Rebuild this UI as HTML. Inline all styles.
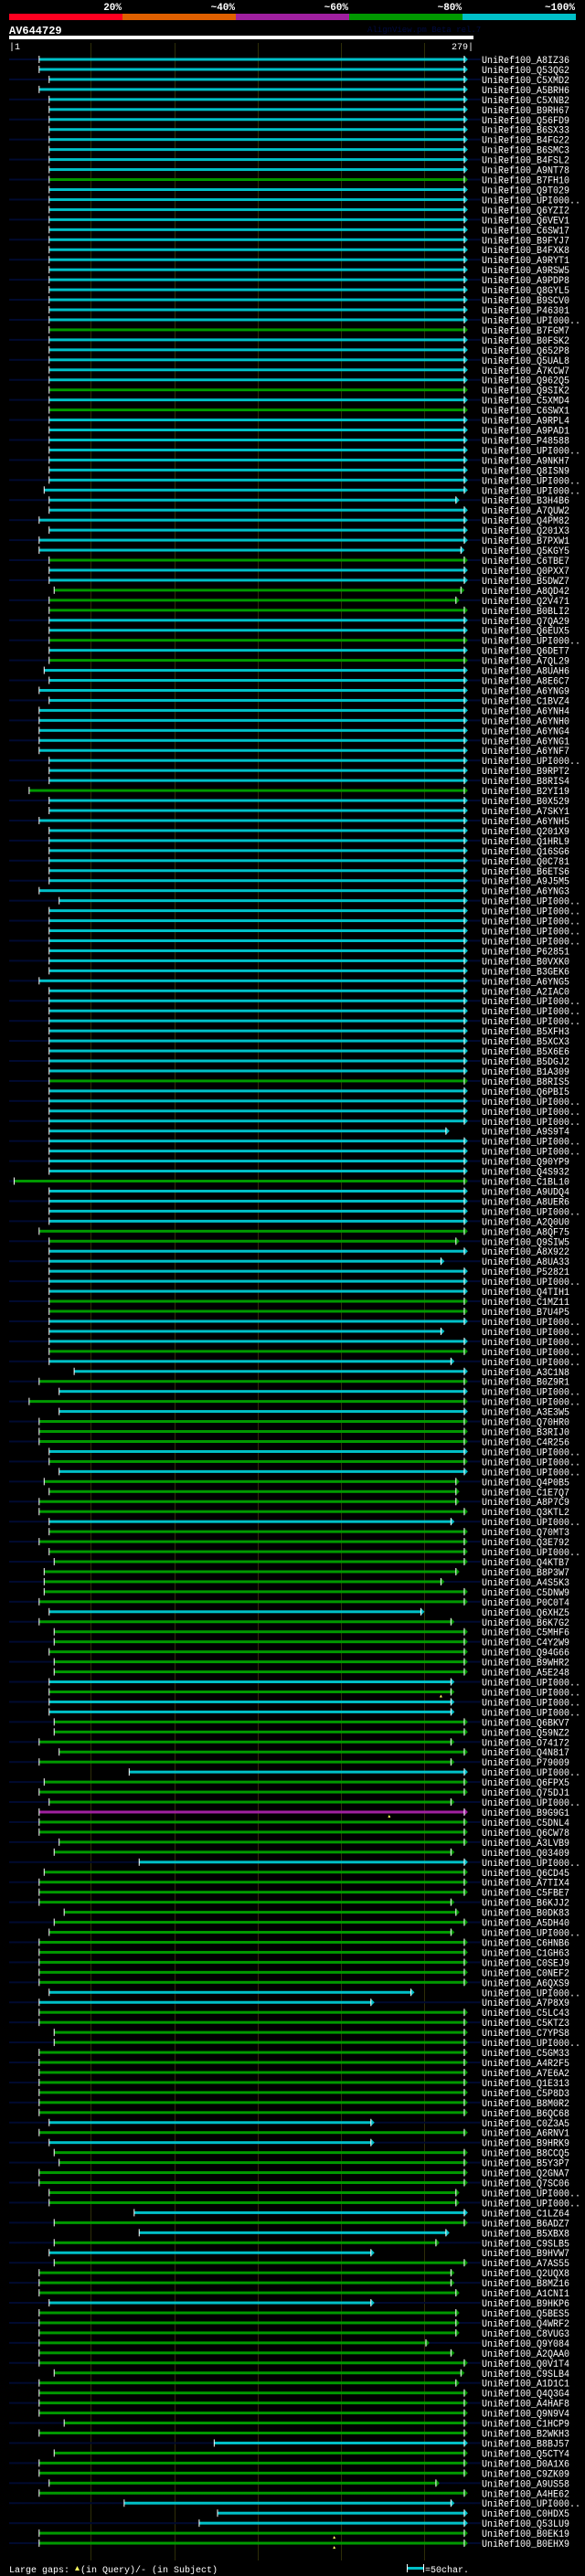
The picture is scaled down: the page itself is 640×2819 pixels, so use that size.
<!DOCTYPE html>
<html><head><meta charset="utf-8"><title>AV644729 alignment</title>
<style>
html,body{margin:0;padding:0;background:#000;}
svg{display:block;}
text{font-family:"Liberation Mono",monospace;}
</style></head>
<body>
<svg id="chart" width="640" height="2819" viewBox="0 0 640 2819" xmlns="http://www.w3.org/2000/svg">
<rect x="0" y="0" width="640" height="2819" fill="#000"/>
<g>
<rect x="10" y="15" width="124" height="7" fill="#ff0020"/>
<rect x="134" y="15" width="124" height="7" fill="#e06000"/>
<rect x="258" y="15" width="124" height="7" fill="#a020a0"/>
<rect x="382" y="15" width="124" height="7" fill="#009900"/>
<rect x="506" y="15" width="124" height="7" fill="#00c0c8"/>
<g fill="#fff" font-weight="bold" font-size="11" text-anchor="end">
<text x="133" y="11">20%</text>
<text x="257" y="11">~40%</text>
<text x="381" y="11">~60%</text>
<text x="505" y="11">~80%</text>
<text x="629" y="11">~100%</text>
</g>
</g>
<text x="10" y="37" fill="#fff" font-weight="bold" font-size="12">AV644729</text>
<text x="402" y="35" fill="#000a40" font-size="9">AlignView.pm Beta rel.7</text>
<rect x="10" y="39" width="508" height="4" fill="#fff"/>
<text x="10" y="54" fill="#fff" font-size="10">|1</text>
<text x="518" y="54" fill="#fff" font-size="10" text-anchor="end">279|</text>
<g id="grid"></g>
<g id="rows"></g>
<g>
<text x="10" y="2815" fill="#fff" font-size="10">Large gaps:</text>
<polygon points="82,2813 84.5,2808 87,2813" fill="#ffff60"/>
<text x="88" y="2815" fill="#fff" font-size="10">(in Query)/- (in Subject)</text>
<rect x="446" y="2809" width="17" height="3" fill="#00c0c8"/>
<rect x="445" y="2806" width="1" height="9" fill="#fff"/>
<rect x="463" y="2806" width="1" height="9" fill="#fff"/>
<text x="465" y="2815" fill="#fff" font-size="10">=50char.</text>
</g>
</svg>
<script>
const queryLen = 279;
const gridTicks = [50,100,150,200,250];
const names = ["A8IZ36","Q53QG2","C5XMD2","A5BRH6","C5XNB2","B9RH67","Q56FD9","B6SX33","B4FG22","B6SMC3","B4FSL2","A9NT78","B7FH10","Q9T029","UPI000..","Q6YZI2","Q6VEV1","C6SW17","B9FYJ7","B4FXK8","A9RYT1","A9RSW5","A9PDP8","Q8GYL5","B9SCV0",
"P46301","UPI000..","B7FGM7","B0FSK2","Q652P8","Q5UAL8","A7KCW7","Q962Q5","Q9SIK2","C5XMD4","C6SWX1","A9RPL4","A9PAD1","P48588","UPI000..","A9NKH7","Q8ISN9","UPI000..","UPI000..","B3H4B6","A7QUW2","Q4PM82","Q201X3","B7PXW1","Q5KGY5",
"C6TBE7","Q0PXX7","B5DWZ7","A8QD42","Q2V471","B0BLI2","Q7QA29","Q6EUX5","UPI000..","Q6DET7","A7QL29","A8UAH6","A8E6C7","A6YNG9","C1BVZ4","A6YNH4","A6YNH0","A6YNG4","A6YNG1","A6YNF7","UPI000..","B9RPT2","B8RIS4","B2YI19","B0X529",
"A7SKY1","A6YNH5","Q201X9","Q1HRL9","Q16SG6","Q0C781","B6ETS6","A9J5M5","A6YNG3","UPI000..","UPI000..","UPI000..","UPI000..","UPI000..","P62851","B0VXK0","B3GEK6","A6YNG5","A2IAC0","UPI000..","UPI000..","UPI000..","B5XFH3","B5XCX3","B5X6E6",
"B5DGJ2","B1A309","B8RIS5","Q6PBI5","UPI000..","UPI000..","UPI000..","A9S9T4","UPI000..","UPI000..","Q90YP9","Q4S932","C1BL10","A9UDQ4","A8UER6","UPI000..","A2Q0U0","A8QF75","Q9SIW5","A8X922","A8UA33","P52821","UPI000..","Q4TIH1","C1MZ11",
"B7U4P5","UPI000..","UPI000..","UPI000..","UPI000..","UPI000..","A3C1N8","B0Z9R1","UPI000..","UPI000..","A3E3W5","Q70HR0","B3RIJ0","C4R256","UPI000..","UPI000..","UPI000..","Q4P0B5","C1E7Q7","A8P7C9","Q3KTL2","UPI000..","Q70MT3","Q3E792","UPI000..","Q4KTB7",
"B8P3W7","A4S5K3","C5DNW9","P0C0T4","Q6XHZ5","B6K7G2","C5MHF6","C4Y2W9","Q94G66","B9WHR2","A5E248","UPI000..","UPI000..","UPI000..","UPI000..","Q6BKV7","Q59NZ2","O74172","Q4N817","P79009","UPI000..","Q6FPX5","Q75DJ1","UPI000..","B9G9G1",
"C5DNL4","Q6CW78","A3LVB9","Q03409","UPI000..","Q6CD45","A7TIX4","C5FBE7","B6KJJ2","B0DK83","A5DH40","UPI000..","C6HNB6","C1GH63","C0SEJ9","C0NEF2","A6QXS9","UPI000..","A7P8X9","C5LC43","C5KTZ3","C7YPS8","UPI000..","C5GM33","A4R2F5",
"A7E6A2","Q1E313","C5P8D3","B8M0R2","B6QC68","C0Z3A5","A6RNV1","B9HRK9","B8CCQ5","B5Y3P7","Q2GNA7","Q7SC06","UPI000..","UPI000..","C1LZ64","B6ADZ7","B5XBX8","C9SLB5","B9HVW7","A7AS55","Q2UQX8","B8MZ16","A1CNI1","B9HKP6","Q5BES5",
"Q4WRF2","C8VUG3","Q9Y084","A2QAA0","Q0V1T4","C9SLB4","A1D1C1","Q4Q3G4","A4HAF8","Q9N9V4","C1HCP9","B2WKH3","B8BJ57","Q5CTY4","D0A1X6","C9ZK09","A9US58","A4HE62","UPI000..","C0HDX5","Q53LU9","B0EK19","B0EHX9"];
const identityClass = ("ccccccccccccgcccccccccccc"+"ccgcccccgcgcccccccccccccc"+"gccgggccgcgccccccccccccgc"+"ccccccccccccccccccccccccc"+"ccgcccccccccgccccggcccccg"+"gcccgccgcgcgggcgcggggcgggg"+"ggggcggggggcgccgggggcgggp"+"ggggcggggggggggggccgggggg"+"gggggcgcggggggcgcgcggggcg"+"ggggggggggggcgggggcccgg").split('');
const starts = [19,19,25,19,25,25,25,25,25,25,25,25,25,25,25,25,25,25,25,25,25,25,25,25,25,
25,25,25,25,25,25,25,25,25,25,25,25,25,25,25,25,25,25,22,25,25,19,25,19,19,
25,25,25,28,25,25,25,25,25,25,25,22,25,19,25,19,19,19,19,19,25,25,25,13,25,
25,19,25,25,25,25,25,25,19,31,25,25,25,25,25,25,25,19,25,25,25,25,25,25,25,
25,25,25,25,25,25,25,25,25,25,25,25,4,25,25,25,25,19,25,25,25,25,25,25,25,
25,25,25,25,25,25,40,19,31,13,31,19,19,19,25,25,31,22,25,19,19,25,25,19,25,28,
22,22,22,19,25,19,28,28,25,28,28,25,25,25,25,28,28,19,31,19,73,22,19,25,19,
19,19,31,28,79,22,19,19,19,34,28,25,19,19,19,19,19,25,19,19,19,28,28,19,19,
19,19,19,19,19,25,19,25,28,31,19,19,25,25,76,28,79,28,25,28,19,19,19,25,19,
19,19,19,19,19,28,19,19,19,19,34,19,124,28,19,19,25,19,70,126,115,19,19];
const ends = [274,274,274,274,274,274,274,274,274,274,274,274,274,274,274,274,274,274,274,274,274,274,274,274,274,
274,274,274,274,274,274,274,274,274,274,274,274,274,274,274,274,274,274,274,269,274,274,274,274,272,
274,274,274,272,269,274,274,274,274,274,274,274,274,274,274,274,274,274,274,274,274,274,274,274,274,
274,274,274,274,274,274,274,274,274,274,274,274,274,274,274,274,274,274,274,274,274,274,274,274,274,
274,274,274,274,274,274,274,263,274,274,274,274,274,274,274,274,274,274,269,274,260,274,274,274,274,
274,274,260,274,274,266,274,274,274,274,274,274,274,274,274,274,274,269,269,269,274,266,274,274,274,274,
269,260,274,274,248,266,274,274,274,274,274,266,266,266,266,274,274,266,274,266,274,274,274,266,274,
274,274,274,266,274,274,274,274,266,269,274,266,274,274,274,274,274,242,218,274,274,274,274,274,274,
274,274,274,274,274,218,274,218,274,274,274,274,269,269,274,274,263,257,218,274,266,266,269,218,269,
269,269,251,266,274,272,269,274,274,274,274,274,274,274,274,274,257,274,266,274,274,274,274];
const gapRows = [163,175,247,248];
const gapPos = [260,229,196,196];

const palette = {c:"#00c0c8", g:"#009900", p:"#a020a0", o:"#e06000", r:"#ff0020"};
const NS = "http://www.w3.org/2000/svg";
const X0 = 10, X1 = 518;
function xOf(p){ return X0 + (p-1)*(507.9-X0)/(274-1); }
function yOf(i){ return 65 + i*10.96; }
function mk(tag, attrs, parent){
  const e = document.createElementNS(NS, tag);
  for (const k in attrs) e.setAttribute(k, attrs[k]);
  parent.appendChild(e);
  return e;
}
const grid = document.getElementById('grid');
gridTicks.forEach(t=>{
  const l = mk('rect', {x: Math.round(xOf(t)), y: 47, width: 1, height: 2755, fill: "#2e2e08"}, grid);
  
  
});
const rowsG = document.getElementById('rows');
names.forEach((n,i)=>{
  const y = yOf(i);
  const g = mk('g', {}, rowsG);
  
  
  if (i % 2 === 0) {
    const band = mk('rect', {x: 10, y: y-1, width: 516, height: 2, fill: "#000a30"}, g);
    
    
  }
  const xs = xOf(starts[i]), xe = xOf(ends[i]);
  const col = palette[identityClass[i]];
  const bar = mk('rect', {x: xs, y: y-1.5, width: xe-xs, height: 3, fill: col}, g);
  
  
  const arrow = mk('polygon', {points: `${xe},${y-4} ${xe+4},${y} ${xe},${y+4}`, fill: col}, g);
  
  
  const t1 = mk('rect', {x: xs-0.5, y: y-4, width: 1, height: 8, fill: "#fff"}, g);
  
  
  const t2 = mk('rect', {x: xe-0.5, y: y-4, width: 1, height: 8, fill: "#fff"}, g);
  
  
  const label = "UniRef100_" + n;
  const tx = mk('text', {x: 527, y: y+4, fill: "#fff", "font-size": 11, textLength: label.length*6, lengthAdjust: "spacingAndGlyphs"}, g);
  tx.textContent = label;
  
  
});
gapRows.forEach((r,k)=>{
  const x = xOf(gapPos[k]), y = yOf(r);
  const m = mk('polygon', {points: `${x-1.5},${y+6} ${x},${y+3} ${x+1.5},${y+6}`, fill: "#ffff60"}, rowsG);
  
  
});
</script>
</body></html>
